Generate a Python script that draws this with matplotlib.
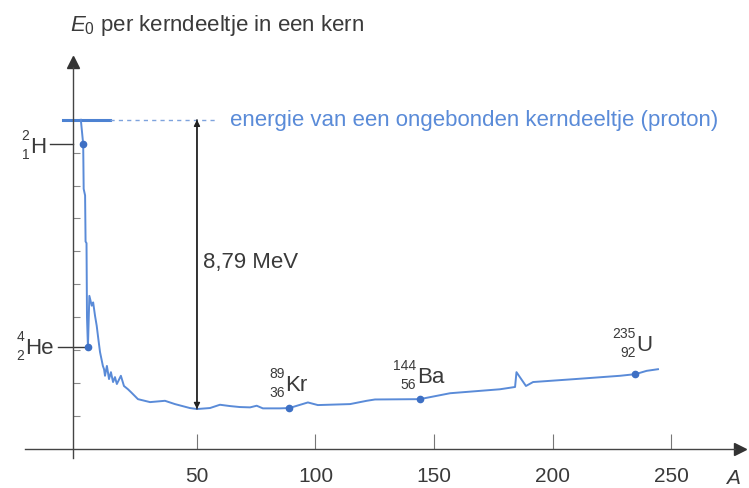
import matplotlib
matplotlib.use('Agg')
import matplotlib.pyplot as plt

plt.rcParams['font.family'] = ['Liberation Sans', 'DejaVu Sans']
plt.rcParams['mathtext.fontset'] = 'custom'
plt.rcParams['mathtext.rm'] = 'Liberation Sans'
plt.rcParams['mathtext.it'] = 'Liberation Sans:italic'

# massagetal A en bindingsenergie per kerndeeltje (MeV) langs de kromme
A_kromme = [1, 2, 2.2, 2.8, 3.0, 3.4, 3.6, 4, 4.6, 5.6, 6.2, 7.0, 7.7, 8.4, 9.1,
            10.3, 10.8, 11.2, 12.0, 12.9, 13.7, 14.6, 15.4, 16.2, 17.9, 19.2,
            20.9, 22.2, 25.1, 30.2, 36.5, 40.7, 47.0, 50, 55.5, 59.7, 63.9,
            68.1, 72.4, 75.2, 77.8, 85, 89, 96.8, 101, 114.6, 121.6, 125.1,
            144, 156.8, 177.8, 184.2, 184.8, 188.8, 191.8, 209.5, 228.5, 235,
            239.7, 244.5]
B_kromme = [0, 0.74, 2.1, 2.3, 3.7, 3.75, 6.0, 6.91, 5.35, 5.65, 5.55, 5.96,
            6.26, 6.67, 7.06, 7.48, 7.58, 7.78, 7.48, 7.88, 7.67, 7.97, 7.82,
            8.03, 7.78, 8.09, 8.19, 8.28, 8.49, 8.58, 8.54, 8.64, 8.76, 8.79,
            8.76, 8.66, 8.70, 8.73, 8.74, 8.69, 8.77, 8.77, 8.76, 8.59, 8.67,
            8.64, 8.54, 8.50, 8.49, 8.31, 8.19, 8.12, 7.67, 8.09, 7.97, 7.88,
            7.78, 7.73, 7.63, 7.58]

# gemarkeerde kernen
kernen = ['H', 'He', 'Kr', 'Ba', 'U']
massa = [2, 4, 89, 144, 235]
lading = [1, 2, 36, 56, 92]
B_kern = [0.74, 6.91, 8.76, 8.49, 7.73]

A_min = 50
B_min = 8.79

xticks = [50, 100, 150, 200, 250]

blauw = '#5a8bd8'
donkerblauw = '#3e70c4'
grijs = '#3a3a3a'

fig = plt.figure(figsize=(7.49, 4.89), dpi=100)
ax = fig.add_axes([0, 0, 1, 1])
ax.set_xlim(-33.1, 282.9)
ax.set_ylim(-11.19, 3.67)

# assen met pijlpunten
for s in ['top', 'right']:
    ax.spines[s].set_visible(False)
ax.spines['left'].set_position(('data', -2.3))
ax.spines['bottom'].set_position(('data', -10))
ax.spines['left'].set_bounds(-10.28, 1.6)
ax.spines['bottom'].set_bounds(-22.5, 277)
for s in ['left', 'bottom']:
    ax.spines[s].set_color('#444444')
    ax.spines[s].set_linewidth(1.0)
ax.plot(-2.3, 1.75, marker='^', ms=9, color='#333333', clip_on=False)
ax.plot(279, -10, marker='>', ms=9, color='#333333', clip_on=False)

ax.set_xticks(xticks)
ax.set_xticklabels([str(t) for t in xticks])
ax.set_yticks([-k for k in range(1, 10)])
ax.set_yticklabels([])
ax.tick_params(axis='x', direction='in', length=11, width=0.8, color='#777777',
               labelsize=15, labelcolor=grijs, pad=12)
ax.tick_params(axis='y', direction='in', length=5, width=0.8, color='#888888')

ax.text(0.988, 0.022, 'A', transform=ax.transAxes, fontsize=15,
        style='italic', color=grijs, ha='right', va='center')
fig.text(70 / 749, 1 - 25 / 489, r'$E_0$ per kerndeeltje in een kern',
         fontsize=16, color=grijs, ha='left', va='center')

# energie van een vrij kerndeeltje
ax.plot([-6.5, 13.3], [0, 0], color='#4d82d2', lw=2.2)
ax.plot([13.3, 58], [0, 0], color='#7ea3dd', lw=1.0, dashes=(3, 3))
ax.text(64, 0, 'energie van een ongebonden kerndeeltje (proton)',
        fontsize=16, color=blauw, ha='left', va='center')

# kromme
E_kromme = [-b for b in B_kromme]
ax.plot(A_kromme, E_kromme, color=blauw, lw=1.4)
E_kern = [-b for b in B_kern]
ax.plot(massa, E_kern, 'o', ms=4.5, color=donkerblauw, zorder=3)

# pijl van 8,79 MeV
for y0, y1 in [(0, -B_min), (-B_min, 0)]:
    ax.annotate('', xy=(A_min, y1), xytext=(A_min, y0),
                arrowprops=dict(arrowstyle='-|>', color='#222222', lw=1.0,
                                mutation_scale=9, shrinkA=0, shrinkB=0))
ax.text(A_min + 2.5, -B_min / 2 + 0.1, ('%.2f' % B_min).replace('.', ',') + ' MeV',
        fontsize=16, color=grijs, ha='left', va='center')


def kernlabel(x, y, sym, a, z, dx, dy):
    # symbool met massagetal en atoomnummer ervoor, offsets in pixels
    k = 0.72
    ax.annotate(sym, xy=(x, y), xytext=(dx * k, dy * k),
                textcoords='offset points', fontsize=16, color=grijs,
                ha='left', va='center')
    ax.annotate(str(a), xy=(x, y), xytext=((dx - 1) * k, (dy + 11) * k),
                textcoords='offset points', fontsize=10, color=grijs,
                ha='right', va='center')
    ax.annotate(str(z), xy=(x, y), xytext=((dx - 1) * k, (dy - 8) * k),
                textcoords='offset points', fontsize=10, color=grijs,
                ha='right', va='center')


# H en He links van de as met een verbindingslijn
ax.plot([-12, -2.3], [E_kern[0], E_kern[0]], color=grijs, lw=1.0)
ax.plot([-8.6, massa[1]], [E_kern[1], E_kern[1]], color=grijs, lw=1.0)
kernlabel(massa[0], E_kern[0], 'H', massa[0], lading[0], -53, -2)
kernlabel(massa[1], E_kern[1], 'He', massa[1], lading[1], -63, 0)
kernlabel(massa[2], E_kern[2], 'Kr', massa[2], lading[2], -4, 24)
kernlabel(massa[3], E_kern[3], 'Ba', massa[3], lading[3], -3, 23)
kernlabel(massa[4], E_kern[4], 'U', massa[4], lading[4], 1, 30)

fig.savefig('out.png', dpi=100)
